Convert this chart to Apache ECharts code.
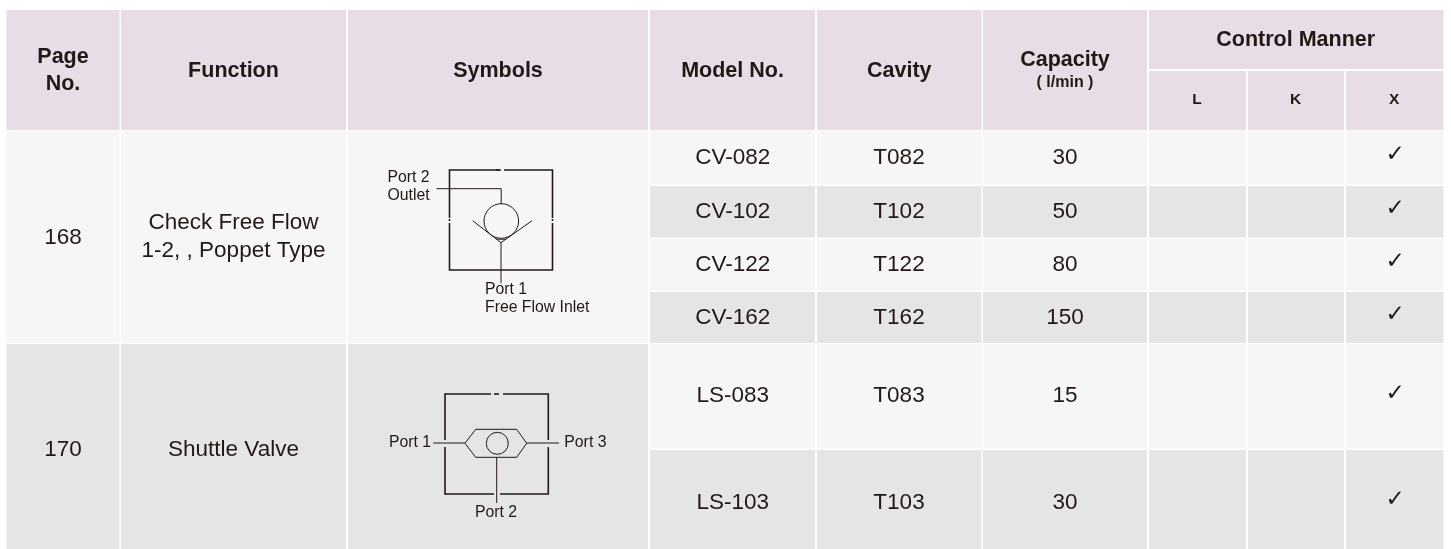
<!DOCTYPE html>
<html>
<head>
<meta charset="utf-8">
<style>html,body{margin:0;padding:0;background:#fff}#c{width:1451px;height:549px}</style>
<script src="https://cdn.jsdelivr.net/npm/echarts@6/dist/echarts.min.js"></script>
</head>
<body>
<div id="c"></div>
<script>
// ---- table content ----
const pageNos = ['168', '170'];
const functionNames = ['Check Free Flow\n1-2, , Poppet Type', 'Shuttle Valve'];
const headerLabels = ['Page\nNo.', 'Function', 'Symbols', 'Model No.', 'Cavity'];
const capacityHeader = 'Capacity';
const capacityUnit = '( l/min )';
const controlHeader = 'Control Manner';
const controlManners = ['L', 'K', 'X'];
const modelNos = ['CV-082', 'CV-102', 'CV-122', 'CV-162', 'LS-083', 'LS-103'];
const cavities = ['T082', 'T102', 'T122', 'T162', 'T083', 'T103'];
const capacities = [30, 50, 80, 150, 15, 30];
const controlL = [0, 0, 0, 0, 0, 0];
const controlK = [0, 0, 0, 0, 0, 0];
const controlX = [1, 1, 1, 1, 1, 1];
const groupSpans = [4, 2];
const symbol1Labels = ['Port 2\nOutlet', 'Port 1\nFree Flow Inlet'];
const symbol2Labels = ['Port 1', 'Port 3', 'Port 2'];

// ---- layout (axis units = pixels) ----
const colX = [[6.5, 119.5], [121, 346], [348, 648], [650, 815], [817, 981.5], [983, 1147], [1149, 1246], [1248, 1344], [1346, 1443.5]];
const rowY = [[131, 184.5], [186, 237.5], [239, 290.5], [292, 343], [344, 448.5], [450, 555]];
const headY = [10, 130];
const subY = [[10, 69], [71, 130]];
const C = { head: '#e8dce6', light: '#f6f6f6', dark: '#e5e5e5', ink: '#231815' };
const FF = '"Liberation Sans", Arial, sans-serif';
const bodySize = 22.5, headSize = 21.5;

// ---- build cell + text lists ----
const cells = [], texts = [], checks = [];
const mid = a => (a[0] + a[1]) / 2;
function cell(x, y, fill) { cells.push([x[0], y[0], x[1], y[1], fill]); }
function text(t, x, y, size, weight, lh, align) { texts.push({ t, x, y, size, weight, lh, align }); }

headerLabels.forEach((h, i) => {
  cell(colX[i], headY, C.head);
  text(h, mid(colX[i]), h.includes('\n') ? 70.5 : 71, headSize, 'bold', 27);
});
cell(colX[5], headY, C.head);
text(capacityHeader, 1065, 60, headSize, 'bold');
text(capacityUnit, 1065, 83, 16, 'bold');
cell([colX[6][0], colX[8][1]], subY[0], C.head);
text(controlHeader, 1295.7, 40.5, headSize, 'bold');
controlManners.forEach((m, i) => {
  cell(colX[6 + i], subY[1], C.head);
  text(m, mid(colX[6 + i]) - 0.5, 100, 15.5, 'bold');
});

let r = 0;
groupSpans.forEach((span, g) => {
  const y = [rowY[r][0], rowY[r + span - 1][1]];
  const fill = g === 0 ? C.light : C.dark;
  [0, 1, 2].forEach(c => cell(colX[c], y, fill));
  text(pageNos[g], mid(colX[0]), mid(y) + 0.5, bodySize, 'normal');
  text(functionNames[g], mid(colX[1]), mid(y), bodySize, 'normal', 28);
  r += span;
});
modelNos.forEach((m, i) => {
  const fill = i % 2 === 0 ? C.light : C.dark;
  for (let c = 3; c < 9; c++) cell(colX[c], rowY[i], fill);
  const y = mid(rowY[i]);
  text(m, 732.7, y, bodySize, 'normal');
  text(cavities[i], 899, y, bodySize, 'normal');
  text(String(capacities[i]), 1065, y, bodySize, 'normal');
  [controlL, controlK, controlX].forEach((arr, k) => {
    if (arr[i]) checks.push([mid(colX[6 + k]) + 0.5, y - 2.5]);
  });
});

// symbol labels
const symSize = 15.8;
text(symbol1Labels[0], 387.5, 187, symSize, 'normal', 18, 'left');
text(symbol1Labels[1], 485, 299, symSize, 'normal', 18, 'left');
text(symbol2Labels[0], 389, 443, symSize, 'normal', 18, 'left');
text(symbol2Labels[1], 564.3, 443, symSize, 'normal', 18, 'left');
text(symbol2Labels[2], 496, 513, symSize, 'normal', 18);

// ---- schematic strokes: [width, points...] ----
const diagramLines = [
  // symbol 1 frame
  [1.6, [501, 170], [449.5, 170], [449.5, 218]], [1.6, [504, 170], [552.5, 170], [552.5, 218]],
  [1.6, [496, 170], [499, 170]],
  [1.6, [449.5, 223], [449.5, 270], [552.5, 270], [552.5, 223]],
  [1.6, [449.5, 219], [449.5, 221]], [1.6, [552.5, 219], [552.5, 221]],
  // symbol 1 inner
  [1, [436.5, 188.7], [501.2, 188.7], [501.2, 204]],
  [1, [472.7, 220.7], [501, 242.7], [532, 220.7]],
  [1, [496, 239.2], [506, 239.2]],
  [1, [501, 242.7], [501, 283.3]],
  // symbol 2 frame
  [1.6, [491, 394], [445, 394], [445, 440]], [1.6, [503, 394], [548.3, 394], [548.3, 440]],
  [1.6, [494, 394], [499, 394]],
  [1.6, [445, 447], [445, 494], [494, 494]], [1.6, [548.3, 447], [548.3, 494], [500, 494]],
  // symbol 2 inner
  [1, [465, 443.3], [475.7, 429.3], [516.7, 429.3], [526.7, 443.3], [516.7, 457.3], [475.7, 457.3], [465, 443.3]],
  [1, [433.3, 443], [465, 443]], [1, [526.7, 443], [559, 443]],
  [1, [496.7, 457.3], [496.7, 503]]
];
const diagramCircles = [[501.3, 221, 17.3], [497.3, 443.3, 11]];

const idx = a => a.map((_, i) => [i]);
function customSeries(list, render, z) {
  return { type: 'custom', coordinateSystem: 'cartesian2d', silent: true, z, clip: true,
    encode: { x: 0, y: 0 }, data: idx(list),
    renderItem: (p, api) => render(list[api.value(0)], api) };
}

const option = {
  animation: false,
  backgroundColor: '#ffffff',
  grid: { left: 0, right: 0, top: 0, bottom: 0 },
  xAxis: { type: 'value', min: 0, max: 1451, show: false },
  yAxis: { type: 'value', min: 0, max: 549, inverse: true, show: false },
  tooltip: { show: false },
  series: [
    customSeries(cells, (c, api) => {
      const a = api.coord([c[0], c[1]]), b = api.coord([c[2], c[3]]);
      return { type: 'rect', shape: { x: a[0], y: a[1], width: b[0] - a[0], height: b[1] - a[1] }, style: { fill: c[4] } };
    }, 1),
    customSeries(diagramLines, (l, api) => ({
      type: 'polyline', shape: { points: l.slice(1).map(p => api.coord(p)) },
      style: { stroke: C.ink, lineWidth: l[0], fill: null }
    }), 2),
    customSeries(diagramCircles, (c, api) => {
      const a = api.coord([c[0], c[1]]);
      return { type: 'circle', shape: { cx: a[0], cy: a[1], r: c[2] }, style: { stroke: C.ink, lineWidth: 1, fill: null } };
    }, 2),
    customSeries(texts, (t, api) => {
      const a = api.coord([t.x, t.y]);
      return { type: 'text', x: a[0], y: a[1], style: {
        text: t.t, fill: C.ink, fontFamily: FF, fontSize: t.size, fontWeight: t.weight,
        lineHeight: t.lh, align: t.align || 'center', verticalAlign: 'middle' } };
    }, 3),
    customSeries(checks, (c, api) => {
      const a = api.coord(c);
      return { type: 'text', x: a[0], y: a[1], style: {
        text: '\u2713', fill: C.ink, fontFamily: '"DejaVu Sans", sans-serif', fontSize: 23,
        align: 'center', verticalAlign: 'middle' } };
    }, 3)
  ]
};
const chart = echarts.init(document.getElementById('c'), null, { renderer: 'canvas' });
chart.setOption(option);
</script>
</body>
</html>
